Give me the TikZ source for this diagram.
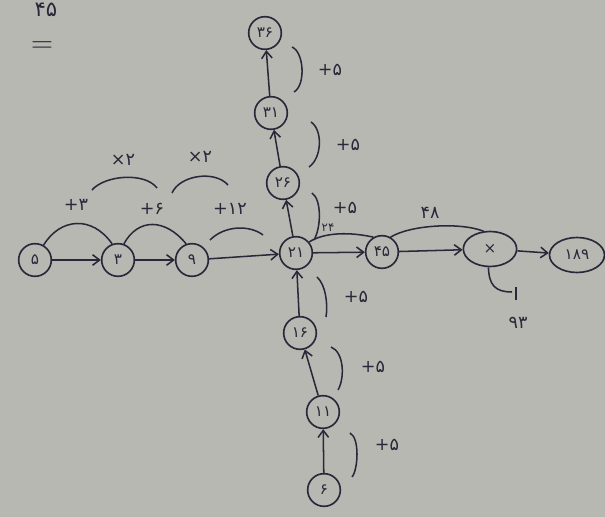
\documentclass[tikz,border=0pt]{standalone}
\usepackage{fontspec}
\newfontfamily\fa{DejaVu Sans}
\usetikzlibrary{arrows.meta,shapes.geometric}
\definecolor{paper}{RGB}{184,184,178}
\definecolor{ink}{RGB}{40,40,58}
\begin{document}
\begin{tikzpicture}[x=0.03cm,y=-0.03cm,
  num/.style={draw=ink,circle,line width=1.4pt,minimum size=0.98cm,inner sep=1pt,
    text=ink,font=\fa\fontsize{13}{14}\selectfont},
  wide/.style={num,ellipse,minimum width=1.6cm,minimum height=1.05cm},
  edge/.style={draw=ink,line width=1.3pt,-{Straight Barb[length=6pt,width=9pt]}},
  note/.style={draw=ink,line width=1.3pt},
  lab/.style={text=ink,font=\fa\fontsize{15}{16}\selectfont,inner sep=1pt}]
\fill[paper] (0,0) rectangle (605,517);
\useasboundingbox (0,0) rectangle (605,517);

% nodes
\node[num] (n5) at (35,260) {۵};
\node[num] (n3) at (118,260) {۳};
\node[num] (n9) at (192,260) {۹};
\node[num] (n21) at (296,253) {۲۱};
\node[num] (n45) at (382,252) {۴۵};
\node[wide] (nx) at (490,249) {×};
\node[wide,minimum width=1.65cm] (n189) at (577,255) {۱۸۹};
\node[num] (n26) at (283,183) {۲۶};
\node[num] (n31) at (271,113) {۳۱};
\node[num] (n36) at (265,33) {۳۶};
\node[num] (n16) at (300,333) {۱۶};
\node[num] (n11) at (323,412) {۱۱};
\node[num] (n6) at (324,490) {۶};

% horizontal edges
\draw[edge] (n5) -- (n3);
\draw[edge] (n3) -- (n9);
\draw[edge] (n9) -- (n21);
\draw[edge] (n21) -- (n45);
\draw[edge] (n45) -- (nx);
\draw[edge] (nx) -- (n189);
% vertical edges
\draw[edge] (n6) -- (n11);
\draw[edge] (n11) -- (n16);
\draw[edge] (n16) -- (n21);
\draw[edge] (n21) -- (n26);
\draw[edge] (n26) -- (n31);
\draw[edge] (n31) -- (n36);

% arcs above horizontal edges
\draw[note] (n5.60) .. controls (60,218) and (92,215) .. (n3.110);
\node[lab] (a1) at (76,205) {+۳};
\draw[note] (n3.70) .. controls (138,218) and (165,218) .. (n9.110);
\node[lab] (a2) at (152,209) {+۶};
\draw[note] (210,240) .. controls (225,225) and (250,225) .. (263,235);
\node[lab] (a3) at (230,209) {+۱۲};
\draw[note] (n21.40) .. controls (325,232) and (350,232) .. (n45.120);
\node[lab,font=\fa\fontsize{10}{11}\selectfont] (a4) at (328,228) {۲۴};
\draw[note] (n45.60) .. controls (410,225) and (460,222) .. (nx.110);
\node[lab] (a5) at (430,213) {۴۸};
% multiply arcs
\draw[note] (92,190) .. controls (105,175) and (145,172) .. (157,188);
\node[lab] (m1) at (123,160) {×۲};
\draw[note] (172,193) .. controls (180,175) and (215,170) .. (228,185);
\node[lab] (m2) at (200,157) {×۲};

% branch from x node
\draw[note] (nx.-95) .. controls (489,285) and (495,292) .. (512,292);
\draw[note] (516,287) -- (516,300);
\node[lab] (b1) at (518,323) {۹۳};

% vertical brackets
\draw[note] (292,47) .. controls (304,52) and (306,85) .. (294,92);
\node[lab] (v1) at (330,70) {+۵};
\draw[note] (311,122) .. controls (323,130) and (322,158) .. (309,167);
\node[lab] (v2) at (348,145) {+۵};
\draw[note] (312,193) .. controls (322,200) and (321,228) .. (314,240);
\node[lab] (v3) at (345,208) {+۵};
\draw[note] (317,277) .. controls (326,285) and (328,305) .. (326,317);
\node[lab] (v4) at (356,297) {+۵};
\draw[note] (331,347) .. controls (344,352) and (345,378) .. (338,390);
\node[lab] (v5) at (373,367) {+۵};
\draw[note] (350,433) .. controls (360,438) and (358,470) .. (352,477);
\node[lab] (v6) at (387,445) {+۵};

% top-left
\node[lab,font=\fa\fontsize{18}{20}\selectfont] (t1) at (46,10) {۴۵};
\node[lab,inner sep=0pt,font=\fontsize{26}{26}\selectfont] (t2) at (42,47) {=};
\end{tikzpicture}
\end{document}
